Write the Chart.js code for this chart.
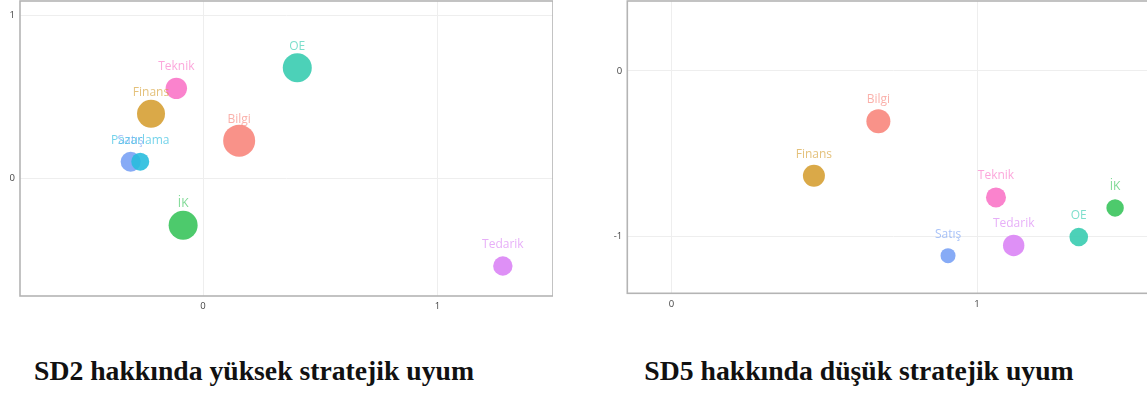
<!DOCTYPE html>
<html>
<head>
<meta charset="utf-8">
<script src="https://cdn.jsdelivr.net/npm/chart.js@4.4.0/dist/chart.umd.min.js"></script>
<style>
  html, body { margin: 0; padding: 0; background: #fff; overflow: hidden; }
  body { width: 1147px; height: 396px; position: relative; }
  .box { position: absolute; }
  .cap { position: absolute; top: 355px; font-family: "Liberation Serif", serif; font-weight: bold;
         font-size: 27.7px; color: #111; text-align: center; white-space: nowrap; }
</style>
</head>
<body>
<div class="box" style="left:0;top:0;width:553px;height:320px"><canvas id="left"></canvas></div>
<div class="box" style="left:600px;top:0;width:560px;height:318px"><canvas id="right"></canvas></div>
<div class="cap" style="left:34px;width:440px">SD2 hakkında yüksek stratejik uyum</div>
<div class="cap" style="left:644px;width:430px">SD5 hakkında düşük stratejik uyum</div>
<script>
// SD2 (high fit)
const leftNames = ['Bilgi', 'Finans', 'İK', 'OE', 'Satış', 'Pazarlama', 'Tedarik', 'Teknik'];
const leftX = [0.154, -0.222, -0.085, 0.402, -0.309, -0.268, 1.279, -0.114];
const leftY = [0.229, 0.394, -0.29, 0.677, 0.10, 0.10, -0.54, 0.55];
const leftR = [16, 14, 14.5, 14.5, 10, 9, 9.7, 10.7];

// SD5 (low fit)
const rightNames = ['Bilgi', 'Finans', 'İK', 'OE', 'Satış', 'Tedarik', 'Teknik'];
const rightX = [0.677, 0.466, 1.452, 1.333, 0.905, 1.12, 1.062];
const rightY = [-0.305, -0.635, -0.83, -1.006, -1.119, -1.057, -0.766];
const rightR = [12, 11, 8.7, 9.3, 7.5, 10.7, 10];

const palette = {
  'Bilgi': '248,134,124',
  'Finans': '214,160,52',
  'İK': '58,196,92',
  'OE': '56,204,176',
  'Pazarlama': '40,188,222',
  'Satış': '122,162,245',
  'Tedarik': '218,132,245',
  'Teknik': '250,118,200'
};

// box around plot + text labels above the bubbles
const extras = {
  id: 'extras',
  afterDatasetsDraw(chart) {
    const { ctx, chartArea: a } = chart;
    ctx.save();
    ctx.strokeStyle = '#b4b4b4';
    ctx.lineWidth = 1.6;
    ctx.strokeRect(a.left, a.top, a.right - a.left, a.bottom - a.top);
    const names = chart.data.labels;
    ctx.font = '12px "Open Sans", sans-serif';
    ctx.textAlign = 'center';
    ctx.textBaseline = 'middle';
    chart.getDatasetMeta(0).data.forEach((pt, i) => {
      ctx.fillStyle = 'rgba(' + palette[names[i]] + ',0.65)';
      ctx.fillText(names[i], pt.x, pt.y - 21.5);
    });
    ctx.restore();
  }
};

function makeChart(id, names, xs, ys, rs, xr, yr, yWidth, xHeight) {
  const tickFont = { family: '"Open Sans", sans-serif', size: 9.5 };
  return new Chart(document.getElementById(id), {
    type: 'bubble',
    data: {
      labels: names,
      datasets: [{
        data: names.map((n, i) => ({ x: xs[i], y: ys[i], r: rs[i] })),
        backgroundColor: names.map(n => 'rgba(' + palette[n] + ',0.9)'),
        borderWidth: 0
      }]
    },
    options: {
      responsive: true,
      maintainAspectRatio: false,
      animation: false,
      layout: { autoPadding: false, padding: { top: 1, right: 0, left: 0, bottom: 0 } },
      plugins: { legend: { display: false }, tooltip: { enabled: false } },
      scales: {
        x: {
          type: 'linear', min: xr[0], max: xr[1],
          ticks: { stepSize: 1, includeBounds: false, color: '#444', font: tickFont, padding: 5 },
          grid: { color: '#eeeeee', drawTicks: false },
          border: { display: false },
          afterFit(s) { s.height = xHeight; s.paddingLeft = 0; s.paddingRight = 0; }
        },
        y: {
          type: 'linear', min: yr[0], max: yr[1],
          ticks: { stepSize: 1, includeBounds: false, color: '#444', font: tickFont, padding: 5 },
          grid: { color: '#eeeeee', drawTicks: false },
          border: { display: false },
          afterFit(s) { s.width = yWidth; s.paddingTop = 0; s.paddingBottom = 0; }
        }
      }
    },
    plugins: [extras]
  });
}

makeChart('left', leftNames, leftX, leftY, leftR, [-0.781, 1.493], [-0.724, 1.086], 20, 24);
makeChart('right', rightNames, rightX, rightY, rightR, [-0.145, 1.599], [-1.347, 0.424], 27.3, 24.7);
</script>
</body>
</html>
